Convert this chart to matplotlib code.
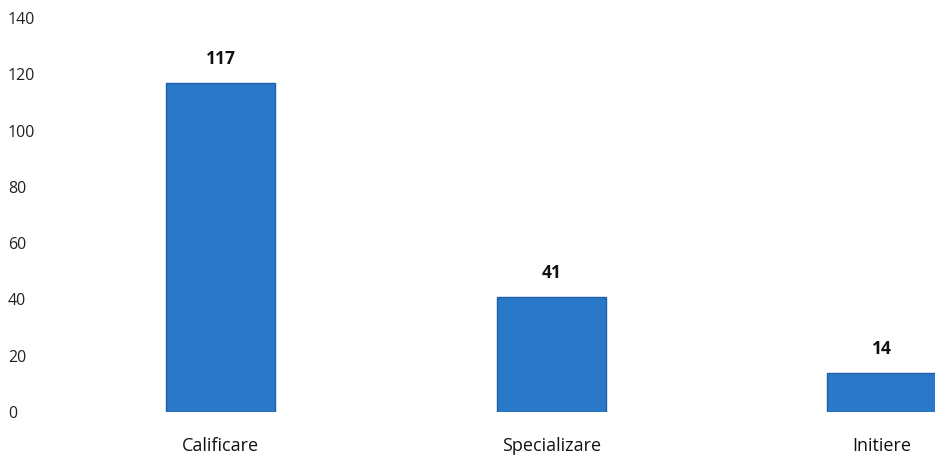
import matplotlib.pyplot as plt

categories = ['Calificare', 'Specializare', 'Initiere']
values = [117, 41, 14]
yticks = [0, 20, 40, 60, 80, 100, 120, 140]

plt.rcParams['font.family'] = ['Open Sans', 'DejaVu Sans']

fig = plt.figure(figsize=(9.35, 4.66), dpi=100)
ax = fig.add_axes([55 / 935, 54 / 466, 880 / 935, 394 / 466])

x = range(len(categories))
bars = ax.bar(x, values, width=0.33, color='#2a78c8', edgecolor='#1f5fae', linewidth=1)

for b, v in zip(bars, values):
    ax.annotate(str(v), (b.get_x() + b.get_width() / 2, v), xytext=(0, 17),
                textcoords='offset points', ha='center', va='center',
                fontsize=12.5, fontweight='bold', color='#111111')

ax.set_xlim(-0.5, 2.16)
ax.set_ylim(0, 140)
ax.set_yticks(yticks)
ax.set_yticklabels([str(t) for t in yticks], ha='left', fontsize=11.5, color='#222222')
ax.tick_params(axis='y', length=0, pad=34)
ax.set_xticks(list(x))
ax.set_xticklabels(categories, fontsize=13, color='#111111')
ax.tick_params(axis='x', length=0, pad=18)
for s in ax.spines.values():
    s.set_visible(False)

fig.savefig('out.png', dpi=100)
